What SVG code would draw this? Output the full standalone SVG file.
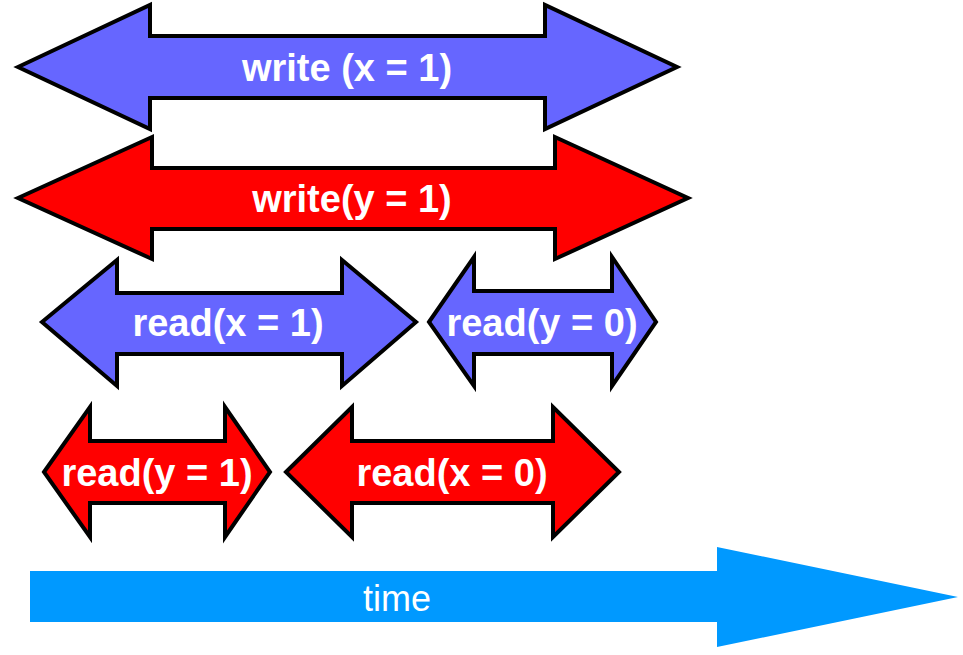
<svg xmlns="http://www.w3.org/2000/svg" width="963" height="655" viewBox="0 0 963 655">
  <style>
    .arrow { stroke: #000; stroke-width: 4; stroke-linejoin: miter; }
    .blue { fill: #6666ff; }
    .red { fill: #ff0000; }
    .label { font-family: "Liberation Sans", Arial, sans-serif; font-weight: bold; font-size: 38px; fill: #fff; text-anchor: middle; }
    .time-label { font-family: "Liberation Sans", Arial, sans-serif; font-size: 36px; fill: #fff; text-anchor: middle; }
  </style>
  <rect width="963" height="655" fill="#fff"/>

  <!-- operations as double-headed arrows spanning their duration -->
  <g id="write-x">
    <polygon class="arrow blue" points="18,67 150,5 150,36 545,36 545,5 677,67 545,129 545,98 150,98 150,129"/>
    <text class="label" x="347" y="81">write (x = 1)</text>
  </g>
  <g id="write-y">
    <polygon class="arrow red" points="18,198 152,137 152,168 555,168 555,137 688,198 555,259 555,229 152,229 152,259"/>
    <text class="label" x="352" y="212">write(y = 1)</text>
  </g>
  <g id="read-x1">
    <polygon class="arrow blue" points="42,322 117,260 117,293 342,293 342,260 416,322 342,386 342,354 117,354 117,386"/>
    <text class="label" x="228" y="336">read(x = 1)</text>
  </g>
  <g id="read-y0">
    <polygon class="arrow blue" points="429,322 474,257 474,291 612,291 612,257 656,322 612,386 612,354 474,354 474,386"/>
    <text class="label" x="542" y="336">read(y = 0)</text>
  </g>
  <g id="read-y1">
    <polygon class="arrow red" points="44,472 90,407 90,441 225,441 225,407 270,472 225,537 225,503 90,503 90,537"/>
    <text class="label" x="157" y="486">read(y = 1)</text>
  </g>
  <g id="read-x0">
    <polygon class="arrow red" points="286,472 352,407 352,441 553,441 553,407 619,472 553,537 553,503 352,503 352,537"/>
    <text class="label" x="452" y="486">read(x = 0)</text>
  </g>

  <!-- time axis -->
  <g id="time">
    <polygon fill="#0099ff" points="30,571 717,571 717,547 958,597 717,647 717,622 30,622"/>
    <text class="time-label" x="397" y="611">time</text>
  </g>
</svg>
